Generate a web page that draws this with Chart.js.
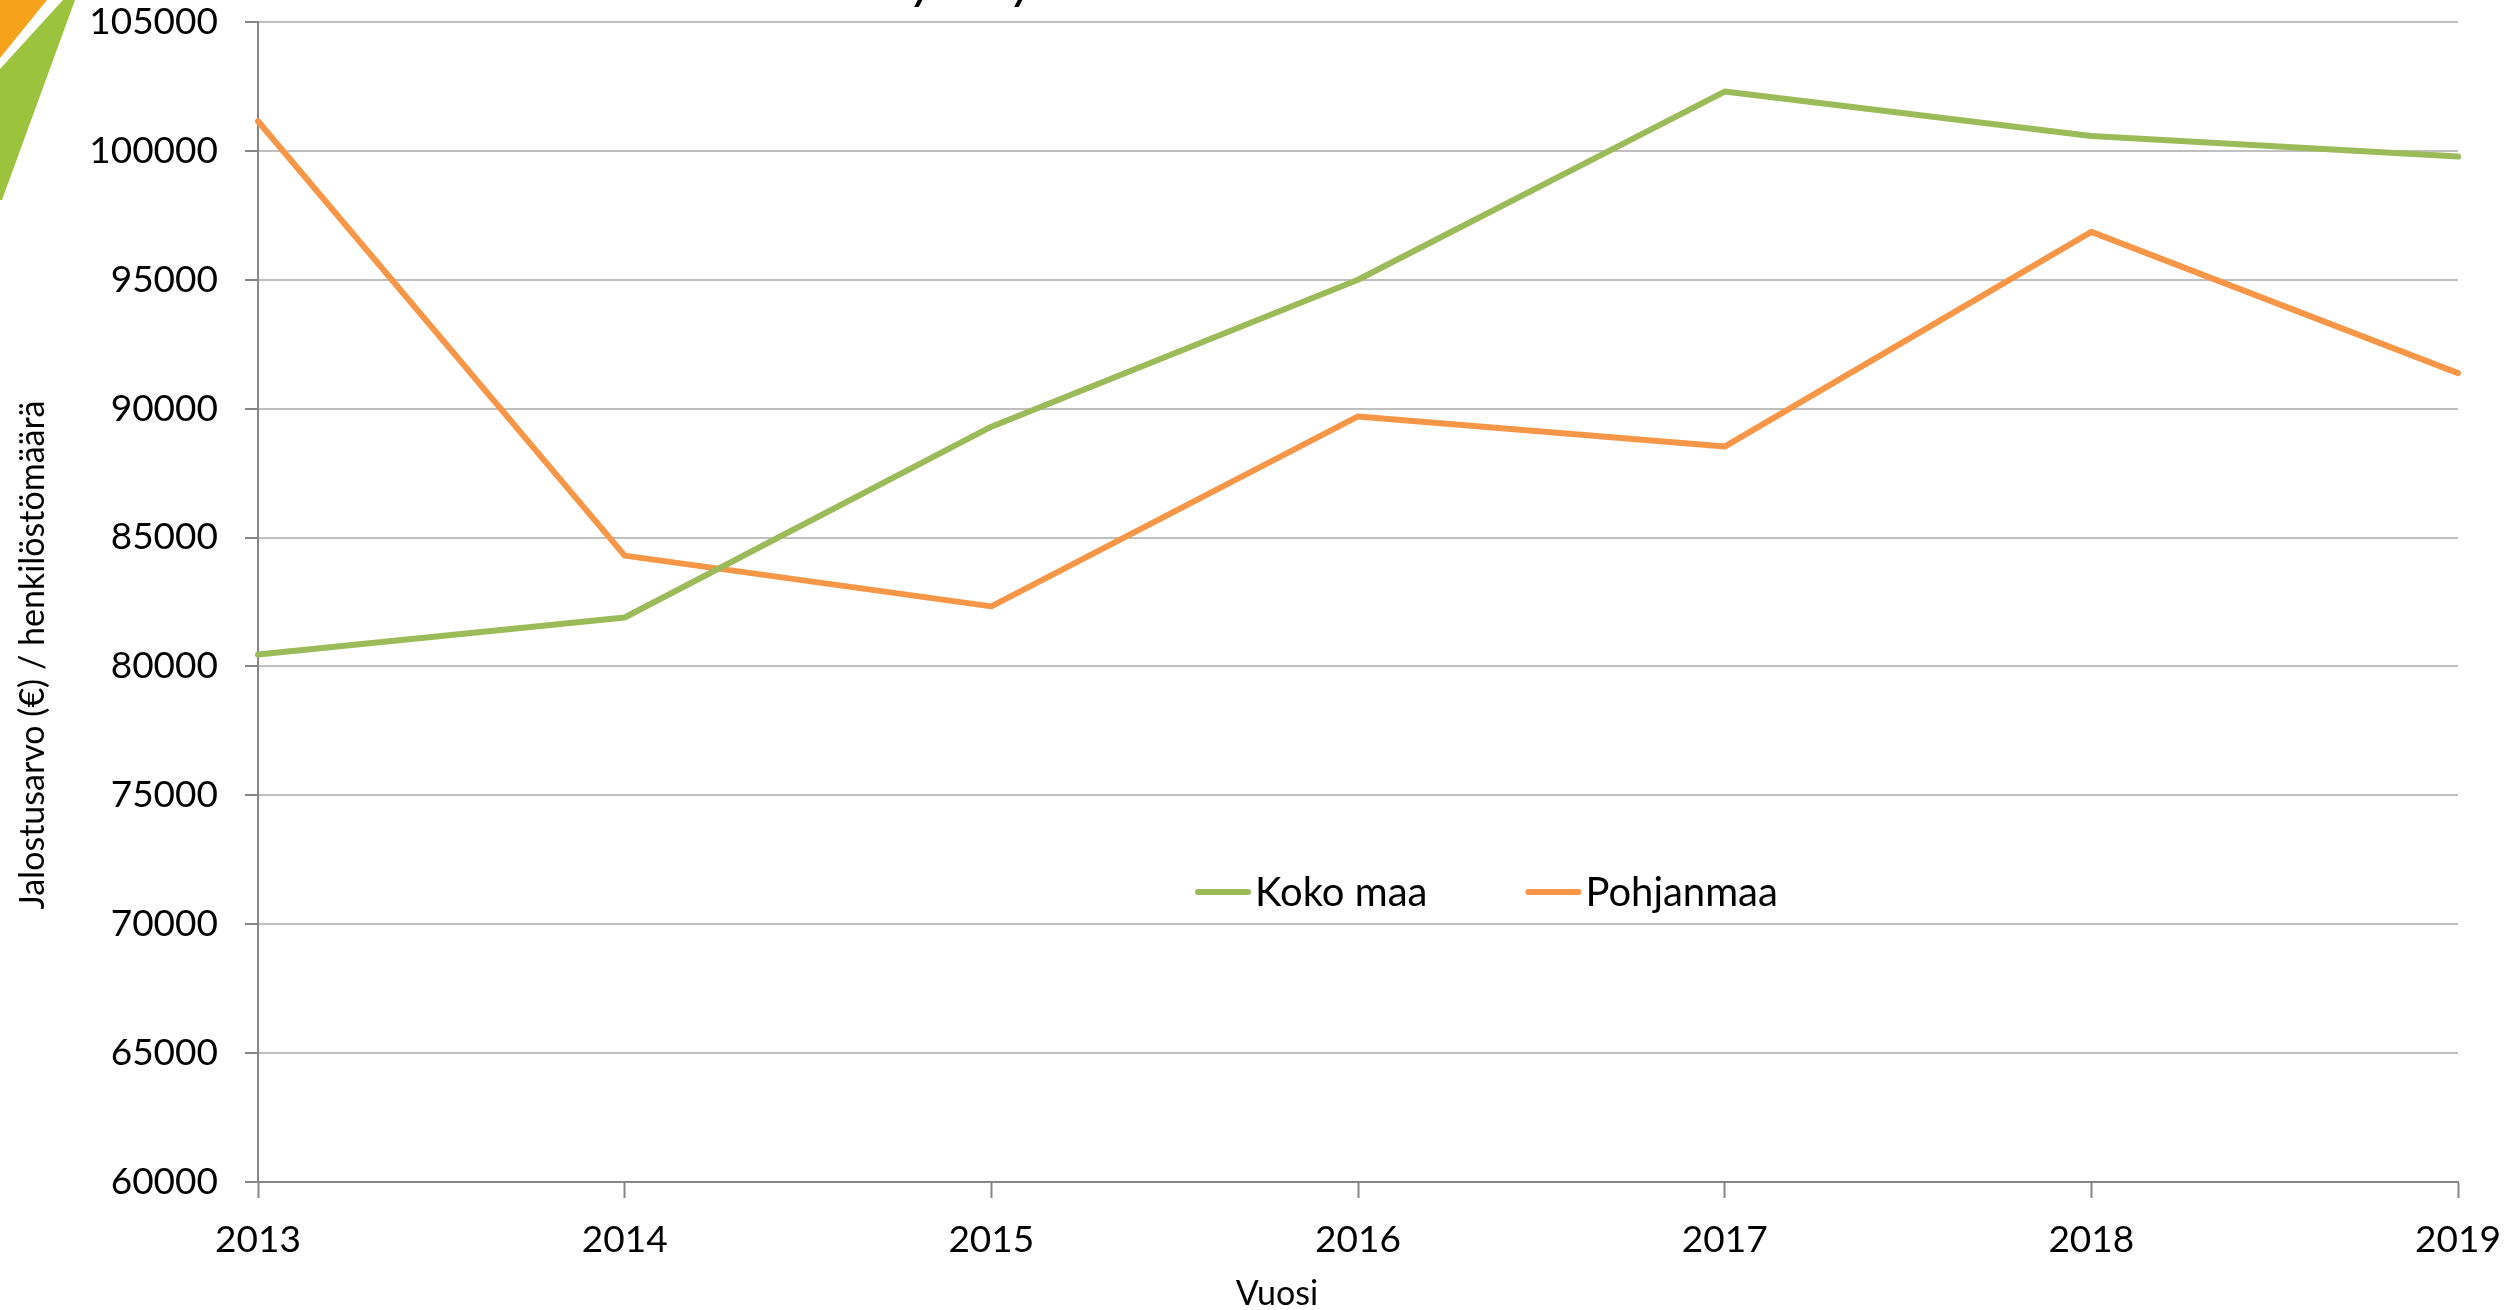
<!DOCTYPE html>
<html>
<head>
<meta charset="utf-8">
<script src="https://cdn.jsdelivr.net/npm/chart.js@4.4.1/dist/chart.umd.min.js"></script>
<style>
    html, body { margin: 0; padding: 0; background: #fff; }
    #wrap { width: 2511px; height: 1310px; }
</style>
</head>
<body>
<div id="wrap"><canvas id="chart" width="2511" height="1310"></canvas></div>
<script>
// data
const years = ['2013', '2014', '2015', '2016', '2017', '2018', '2019'];
const kokoMaa = [80460, 81900, 89300, 95000, 102300, 100580, 99780];
const pohjanmaa = [101150, 84300, 82330, 89700, 88530, 96860, 91380];
const seriesNames = ['Koko maa', 'Pohjanmaa'];
const yMin = 60000;
const yMax = 105000;
const yStep = 5000;
const xTitle = 'Vuosi';
const yTitle = 'Jalostusarvo (€) / henkilöstömäärä';

const GREEN = '#9BBB59';
const ORANGE = '#F79646';
const FONT = 'Lato, "Open Sans", sans-serif';

// corner shapes, axis titles and legend (drawn by hand, Excel-like placement)
const decorPlugin = {
    id: 'decorPlugin',
    beforeDraw(chart) {
        const ctx = chart.ctx;
        ctx.save();
        ctx.fillStyle = '#fff';
        ctx.fillRect(0, 0, chart.width, chart.height);

        ctx.fillStyle = '#F7A21B';
        ctx.beginPath();
        ctx.moveTo(0, 0);
        ctx.lineTo(47, 0);
        ctx.lineTo(0, 58);
        ctx.closePath();
        ctx.fill();

        ctx.fillStyle = '#9CC33D';
        ctx.beginPath();
        ctx.moveTo(0, 69);
        ctx.lineTo(63, 0);
        ctx.lineTo(75, 0);
        ctx.lineTo(2, 200);
        ctx.lineTo(0, 200);
        ctx.closePath();
        ctx.fill();
        ctx.restore();
    },
    afterDraw(chart) {
        const ctx = chart.ctx;
        ctx.save();

        // tails of the cut-off title
        ctx.fillStyle = '#000';
        ctx.font = 'italic bold 40px ' + FONT;
        ctx.textAlign = 'center';
        ctx.textBaseline = 'alphabetic';
        ctx.fillText('y', 922, 0);
        ctx.fillText('y', 1022, 0);

        // axis titles
        ctx.font = '34px ' + FONT;
        ctx.textBaseline = 'middle';
        ctx.fillText(xTitle, 1277, 1294);
        ctx.translate(33, 655);
        ctx.rotate(-Math.PI / 2);
        ctx.fillText(yTitle, 0, 0);
        ctx.restore();

        // legend
        ctx.save();
        ctx.font = '40px ' + FONT;
        ctx.textBaseline = 'middle';
        ctx.textAlign = 'left';
        let x = 1195;
        const y = 892;
        chart.data.datasets.forEach((ds) => {
            ctx.strokeStyle = ds.borderColor;
            ctx.lineWidth = 6;
            ctx.lineCap = 'round';
            ctx.beginPath();
            ctx.moveTo(x + 3, y);
            ctx.lineTo(x + 53, y);
            ctx.stroke();
            ctx.fillStyle = '#000';
            ctx.fillText(ds.label, x + 60, y + 1);
            x += 60 + ctx.measureText(ds.label).width + 98;
        });
        ctx.restore();
    }
};

new Chart(document.getElementById('chart'), {
    type: 'line',
    data: {
        labels: years,
        datasets: [
            { label: seriesNames[0], data: kokoMaa, borderColor: GREEN, backgroundColor: GREEN },
            { label: seriesNames[1], data: pohjanmaa, borderColor: ORANGE, backgroundColor: ORANGE }
        ].map((ds) => ({
            ...ds,
            borderWidth: 6,
            pointRadius: 0,
            pointHoverRadius: 0,
            tension: 0,
            borderJoinStyle: 'round',
            borderCapStyle: 'round'
        }))
    },
    options: {
        responsive: false,
        animation: false,
        devicePixelRatio: 1,
        layout: {
            padding: { top: 22, right: 53, left: 0, bottom: 0 }
        },
        plugins: {
            legend: { display: false },
            tooltip: { enabled: false },
            title: { display: false }
        },
        scales: {
            x: {
                offset: false,
                grid: {
                    drawOnChartArea: false,
                    drawTicks: true,
                    tickLength: 16,
                    tickColor: '#868686',
                    tickWidth: 2
                },
                border: { color: '#868686', width: 2 },
                ticks: {
                    color: '#000',
                    padding: 20,
                    maxRotation: 0,
                    font: { family: FONT, size: 37 }
                },
                afterFit(scale) {
                    scale.height = 128;
                    scale.paddingLeft = 0;
                    scale.paddingRight = 0;
                }
            },
            y: {
                min: yMin,
                max: yMax,
                grid: {
                    color: '#BFBFBF',
                    lineWidth: 2,
                    tickLength: 13,
                    tickColor: '#868686',
                    tickWidth: 2
                },
                border: { color: '#868686', width: 2 },
                ticks: {
                    stepSize: yStep,
                    color: '#000',
                    padding: 27,
                    font: { family: FONT, size: 37 },
                    callback: (value) => String(value)
                },
                afterFit(scale) {
                    scale.width = 258;
                    scale.paddingTop = 0;
                    scale.paddingBottom = 0;
                }
            }
        }
    },
    plugins: [decorPlugin]
});
</script>
</body>
</html>
